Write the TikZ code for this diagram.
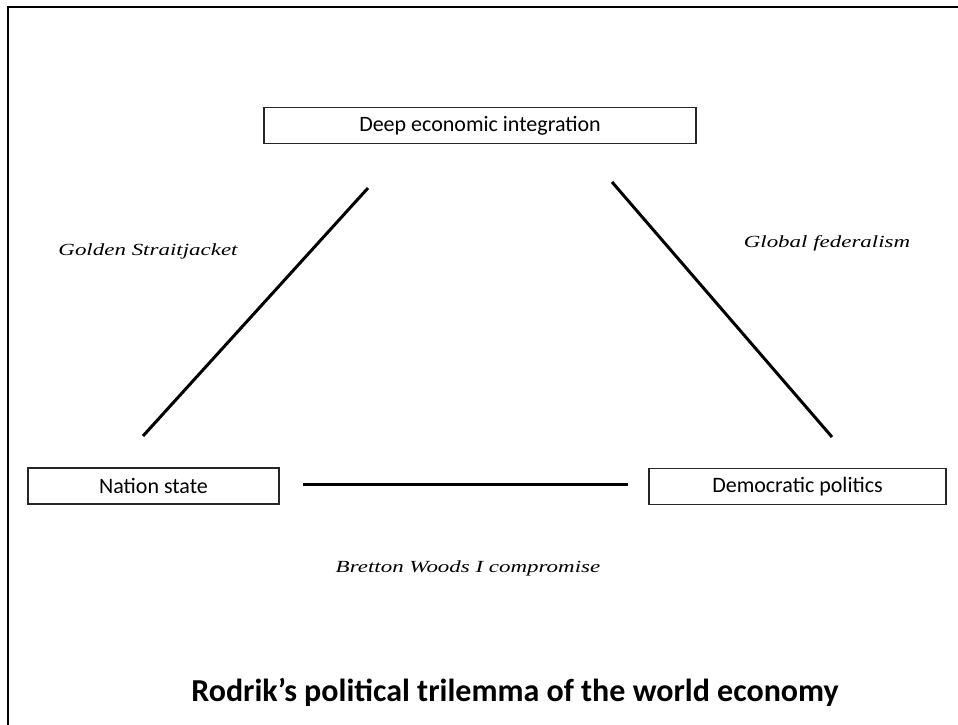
\documentclass[tikz,border=0pt]{standalone}
\usepackage{fontspec}
\usepackage{graphicx}
\setmainfont{Carlito}
\newfontfamily\scriptlabel{Liberation Serif}
\tikzset{
  box/.style={draw=black!85, line width=1.6pt, minimum height=36pt, inner sep=0pt, font=\fontsize{22}{24}\selectfont},
  link/.style={line width=3pt, black},
  slabel/.style={font=\scriptlabel\itshape\fontsize{17}{20}\selectfont, inner sep=0pt},
}
\begin{document}
\begin{tikzpicture}[x=1pt,y=-1pt]
\useasboundingbox (0,0) rectangle (958,724);
\draw[line width=2.2pt] (8,740) -- (8,7) -- (970,7);
\node[box, minimum width=432pt] (top) at (480,125.5) {Deep economic integration};
\node[box, minimum width=251pt] (ns) at (153.5,486) {Nation state};
\node[box, minimum width=297pt] (dp) at (797.5,486.5) {Democratic politics};
\coordinate (gsA) at (368,188);
\coordinate (gsB) at (143,436);
\coordinate (gfA) at (612,182);
\coordinate (gfB) at (832,437);
\coordinate (bwA) at (303,484);
\coordinate (bwB) at (628,484);
\draw[link] (gsA) -- (gsB);
\draw[link] (gfA) -- (gfB);
\draw[link] (bwA) -- (bwB);
\node[slabel] (gs) at (148,251) {\scalebox{1.35}[1]{Golden Straitjacket}};
\node[slabel] (gf) at (827,243) {\scalebox{1.35}[1]{Global federalism}};
\node[slabel] (bw) at (468,568) {\scalebox{1.35}[1]{Bretton Woods I compromise}};
\node[font=\bfseries\fontsize{32}{36}\selectfont, inner sep=0pt] (title) at (515,692) {Rodrik’s political trilemma of the world economy};
\end{tikzpicture}
\end{document}
